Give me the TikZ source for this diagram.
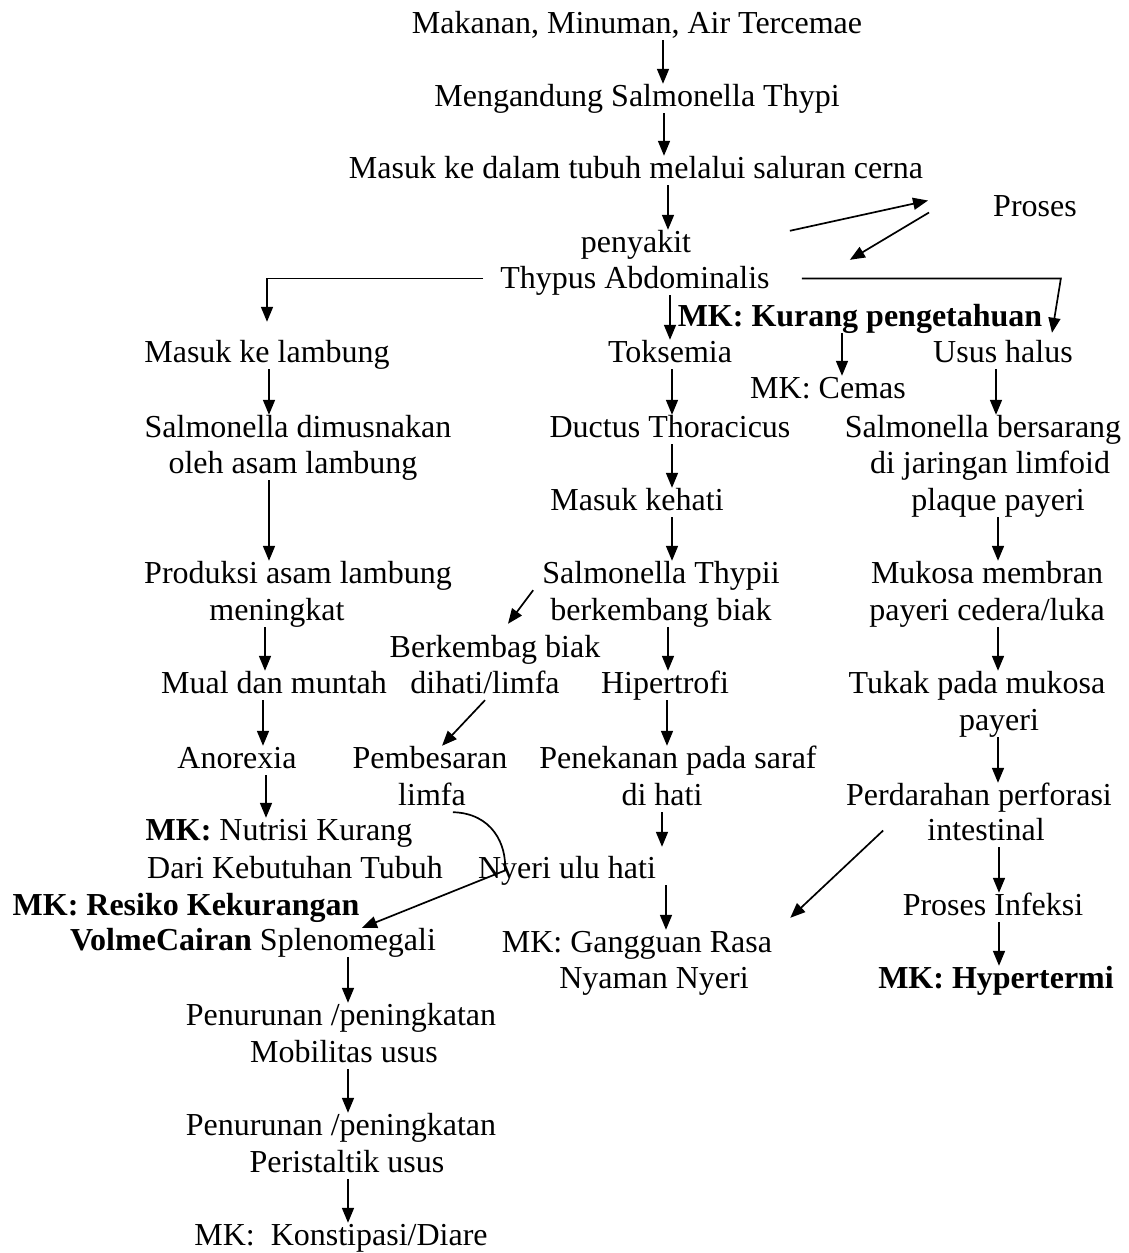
\documentclass[tikz,border=0pt]{standalone}
\usepackage{fontspec}
\setmainfont{Liberation Serif}
\usetikzlibrary{arrows.meta}
\begin{document}
\begin{tikzpicture}[x=1pt,y=-1pt,
  lbl/.style={inner sep=0pt,text height=22pt,text depth=7pt,anchor=base,font=\fontsize{32}{37}\selectfont},
  arr/.style={line width=1.7pt,-{Triangle[length=15pt,width=12pt]}},
  ln/.style={line width=1.7pt}]
\useasboundingbox (0,0) rectangle (1129,1253);
% nodes
\node[lbl] (mak) at (637,33) {Makanan, Minuman, Air Tercemae};
\node[lbl] (men) at (637,106) {Mengandung Salmonella Thypi};
\node[lbl] (msk) at (636,178) {Masuk ke dalam tubuh melalui saluran cerna};
\node[lbl] (pny) at (636,252) {penyakit};
\node[lbl] (thy) at (635,288) {Thypus Abdominalis};
\node[lbl] (pro) at (1035,216) {Proses};
\node[lbl] (mkk) at (860,326) {\bfseries MK: Kurang pengetahuan};
\node[lbl] (lam) at (267,362) {Masuk ke lambung};
\node[lbl] (tok) at (670,362) {Toksemia};
\node[lbl] (usu) at (1003,362) {Usus halus};
\node[lbl] (cem) at (828,398) {MK: Cemas};
\node[lbl] (sd1) at (298,437) {Salmonella dimusnakan};
\node[lbl] (sd2) at (293,473) {oleh asam lambung};
\node[lbl] (duc) at (670,437) {Ductus Thoracicus};
\node[lbl] (sb1) at (983,437) {Salmonella bersarang};
\node[lbl] (sb2) at (990,473) {di jaringan limfoid};
\node[lbl] (sb3) at (998,510) {plaque payeri};
\node[lbl] (keh) at (637,510) {Masuk kehati};
\node[lbl] (pr1) at (298,583) {Produksi asam lambung};
\node[lbl] (pr2) at (277,620) {meningkat};
\node[lbl] (st1) at (661,583) {Salmonella Thypii};
\node[lbl] (st2) at (661,620) {berkembang biak};
\node[lbl] (mu1) at (987,583) {Mukosa membran};
\node[lbl] (mu2) at (987,620) {payeri cedera/luka};
\node[lbl] (bb1) at (495,657) {Berkembag biak};
\node[lbl] (bb2) at (485,693) {dihati/limfa};
\node[lbl] (mual) at (274,693) {Mual dan muntah};
\node[lbl] (hip) at (665,693) {Hipertrofi};
\node[lbl] (tk1) at (977,693) {Tukak pada mukosa};
\node[lbl] (tk2) at (999,730) {payeri};
\node[lbl] (ano) at (237,768) {Anorexia};
\node[lbl] (pb1) at (430,768) {Pembesaran};
\node[lbl] (pb2) at (432,805) {limfa};
\node[lbl] (pn1) at (678,768) {Penekanan pada saraf};
\node[lbl] (pn2) at (662,805) {di hati};
\node[lbl] (pd1) at (979,805) {Perdarahan perforasi};
\node[lbl] (pd2) at (986,840) {intestinal};
\node[lbl] (nu1) at (279,840) {\textbf{MK:} Nutrisi Kurang};
\node[lbl] (nu2) at (295,878) {Dari Kebutuhan Tubuh};
\node[lbl] (nye) at (567,878) {Nyeri ulu hati};
\node[lbl] (pi) at (993,915) {Proses Infeksi};
\node[lbl] (rk1) at (186,915) {\bfseries MK: Resiko Kekurangan};
\node[lbl] (rk2) at (253,950) {\textbf{VolmeCairan} Splenomegali};
\node[lbl] (gg1) at (637,952) {MK: Gangguan Rasa};
\node[lbl] (gg2) at (654,988) {Nyaman Nyeri};
\node[lbl] (hyp) at (996,988) {\bfseries MK: Hypertermi};
\node[lbl] (mo1) at (341,1025) {Penurunan /peningkatan};
\node[lbl] (mo2) at (344,1062) {Mobilitas usus};
\node[lbl] (pe1) at (341,1135) {Penurunan /peningkatan};
\node[lbl] (pe2) at (347,1172) {Peristaltik usus};
\node[lbl] (kd) at (341,1245) {MK:\ \ Konstipasi/Diare};
% connectors
\draw[arr] (mak.south -| 663,0) -- (men.north -| 663,0);
\draw[arr] (men.south -| 664,0) -- (msk.north -| 664,0);
\draw[arr] (msk.south -| 668,0) -- (pny.north -| 668,0);
\draw[arr] (thy.south -| 670,0) -- (tok.north -| 670,0);
\draw[arr] ([xshift=-17pt,yshift=2pt]thy.west) -| ([yshift=18pt]lam.north);
\draw[arr] ([xshift=32pt,yshift=2pt]thy.east) -- ++(259,0) -- ([xshift=49pt,yshift=7pt]usu.north);
\draw[arr] ([xshift=20pt,yshift=35pt]thy.north east) -- ([xshift=-65pt,yshift=8pt]pro.west);
\draw[arr] ([xshift=-64pt,yshift=-4pt]pro.west) -- ([xshift=80pt,yshift=6pt]thy.north east);
\draw[arr] (mkk.south -| 842,0) -- (cem.north -| 842,0);
\draw[arr] (lam.south -| 269,0) -- (sd1.north -| 269,0);
\draw[arr] (tok.south -| 672,0) -- (duc.north -| 672,0);
\draw[arr] (usu.south -| 996,0) -- (sb1.north -| 996,0);
\draw[arr] (sd2.south -| 269,0) -- (pr1.north -| 269,0);
\draw[arr] (duc.south -| 672,0) -- (keh.north -| 672,0);
\draw[arr] (keh.south -| 672,0) -- (st1.north -| 672,0);
\draw[arr] (sb3.south -| 998,0) -- (mu1.north -| 998,0);
\draw[arr] ([xshift=-9pt]st1.south west) -- ([xshift=13pt,yshift=11pt]bb1.north);
\draw[arr] (pr2.south -| 265,0) -- (mual.north -| 265,0);
\draw[arr] (st2.south -| 668,0) -- (hip.north -| 668,0);
\draw[arr] (mu2.south -| 998,0) -- (tk1.north -| 998,0);
\draw[arr] (mual.south -| 263,0) -- (ano.north -| 263,0);
\draw[arr] (bb2.south) -- ([xshift=12pt]pb1.north);
\draw[arr] (hip.south -| 667,0) -- (pn1.north -| 667,0);
\draw[arr] (tk2.south -| 998,0) -- (pd1.north -| 998,0);
\draw[arr] (ano.south -| 266,0) -- (nu1.north -| 266,0);
\draw[arr] (pn2.south -| 662,0) -- ([xshift=95pt,yshift=9pt]nye.north);
\draw[arr] ([xshift=-44pt,yshift=2pt]pd2.west) -- ([xshift=18pt,yshift=12pt]gg1.north east);
\draw[arr] (pd2.south -| 999,0) -- (pi.north -| 999,0);
\draw[arr] (nye.south -| 666,0) -- (gg1.north -| 666,0);
\draw[arr] (pi.south -| 999,0) -- (hyp.north -| 999,0);
\draw[arr] ([xshift=-13pt]pb2.south east) .. controls +(39,1) and +(2,-26) .. ([xshift=27pt]nye.west) -- ([xshift=109pt]rk2.north);
\draw[arr] (rk2.south -| 348,0) -- (mo1.north -| 348,0);
\draw[arr] (mo2.south -| 348,0) -- (pe1.north -| 348,0);
\draw[arr] (pe2.south -| 348,0) -- (kd.north -| 348,0);
\end{tikzpicture}
\end{document}
